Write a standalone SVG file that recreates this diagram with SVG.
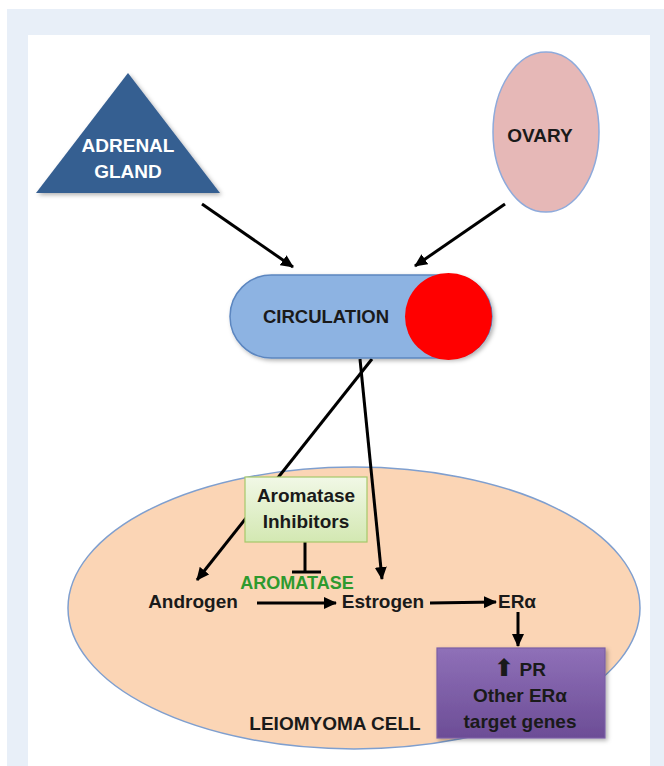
<svg xmlns="http://www.w3.org/2000/svg" width="664" height="766" viewBox="0 0 664 766">
<defs>
  <style>
    .t { font-family: "Liberation Sans", Arial, sans-serif; font-weight: bold; text-anchor: middle; }
    .conn { stroke: #000; stroke-width: 3; fill: none; }
  </style>
  <marker id="ah" markerUnits="userSpaceOnUse" markerWidth="14" markerHeight="12" refX="12" refY="6" orient="auto">
    <path d="M0,0 L13,6 L0,12 Z" fill="#000"/>
  </marker>
  <filter id="sh" x="-20%" y="-20%" width="140%" height="140%">
    <feDropShadow dx="2" dy="2" stdDeviation="2" flood-color="#000" flood-opacity="0.3"/>
  </filter>
  <linearGradient id="gPurple" x1="0" y1="0" x2="0" y2="1">
    <stop offset="0" stop-color="#8f70b8"/>
    <stop offset="1" stop-color="#6c4d96"/>
  </linearGradient>
  <linearGradient id="gGreen" x1="0" y1="0" x2="0" y2="1">
    <stop offset="0" stop-color="#f1f8e6"/>
    <stop offset="1" stop-color="#d3e8b2"/>
  </linearGradient>
</defs>

<rect x="0" y="0" width="664" height="766" fill="#ffffff"/>
<rect x="7" y="9" width="657" height="757" fill="#e8eff8"/>
<rect x="28" y="35" width="622" height="731" fill="#ffffff"/>

<g id="cell">
  <ellipse cx="354" cy="608" rx="286" ry="141" fill="#fbd5b5" stroke="#7f9fcf" stroke-width="1.5"/>
  <text class="t" x="335" y="730" font-size="19" fill="#1a1a1a">LEIOMYOMA CELL</text>
</g>

<g id="connectors">
  <line class="conn" x1="202" y1="204" x2="293" y2="267" marker-end="url(#ah)"/>
  <line class="conn" x1="505" y1="204" x2="415" y2="266" marker-end="url(#ah)"/>
  <line class="conn" x1="372" y1="359" x2="197" y2="580" marker-end="url(#ah)"/>
  <line class="conn" x1="360" y1="359" x2="382" y2="579" marker-end="url(#ah)"/>
  <line class="conn" x1="257" y1="603" x2="336" y2="603" marker-end="url(#ah)"/>
  <line class="conn" x1="430" y1="603" x2="496" y2="602" marker-end="url(#ah)"/>
  <line class="conn" x1="518" y1="612" x2="518" y2="646" marker-end="url(#ah)"/>
  <line class="conn" x1="305" y1="542" x2="305" y2="572"/>
  <line class="conn" x1="292" y1="572" x2="321" y2="572"/>
</g>

<g id="adrenal">
  <polygon points="128,73 220,193 36,193" fill="#365f91" filter="url(#sh)"/>
  <text class="t" x="128" y="152" font-size="19" fill="#ffffff">ADRENAL</text>
  <text class="t" x="128" y="178" font-size="19" fill="#ffffff">GLAND</text>
</g>

<g id="ovary">
  <ellipse cx="546" cy="132" rx="53" ry="80" fill="#e6b8b7" stroke="#8eaadb" stroke-width="1.5"/>
  <text class="t" x="540" y="142" font-size="19" fill="#1a1a1a">OVARY</text>
</g>

<g id="circulation">
  <rect x="230" y="275" width="262" height="83" rx="41.5" ry="41.5" fill="#8db3e2" stroke="#5b86c0" stroke-width="1.5" filter="url(#sh)"/>
  <circle cx="448.5" cy="316.5" r="43.5" fill="#ff0000"/>
  <text class="t" x="326" y="323" font-size="18.5" fill="#1a1a1a">CIRCULATION</text>
</g>

<g id="inhibitors">
  <rect x="245" y="477" width="122" height="65" fill="url(#gGreen)" stroke="#a6c86a" stroke-width="1.2"/>
  <text class="t" x="306" y="502" font-size="19" fill="#1a1a1a">Aromatase</text>
  <text class="t" x="306" y="528" font-size="19" fill="#1a1a1a">Inhibitors</text>
</g>

<g id="aromatase">
  <text class="t" x="297" y="589" font-size="18" fill="#2e9a2e">AROMATASE</text>
</g>

<g id="androgen">
  <text class="t" x="193" y="608" font-size="19" fill="#1a1a1a">Androgen</text>
</g>

<g id="estrogen">
  <text class="t" x="383" y="608" font-size="19" fill="#1a1a1a">Estrogen</text>
</g>

<g id="era">
  <text class="t" x="517" y="608" font-size="19" fill="#1a1a1a">ERα</text>
</g>

<g id="targets">
  <rect x="437" y="648" width="168" height="90" fill="url(#gPurple)" stroke="#7b5fa6" stroke-width="1.2" filter="url(#sh)"/>
  <text class="t" x="520" y="676" font-size="19" fill="#1a1a1a"><tspan font-family="DejaVu Sans" font-size="24">⬆</tspan> PR</text>
  <text class="t" x="520" y="702" font-size="19" fill="#1a1a1a">Other ERα</text>
  <text class="t" x="520" y="728" font-size="19" fill="#1a1a1a">target genes</text>
</g>
</svg>
